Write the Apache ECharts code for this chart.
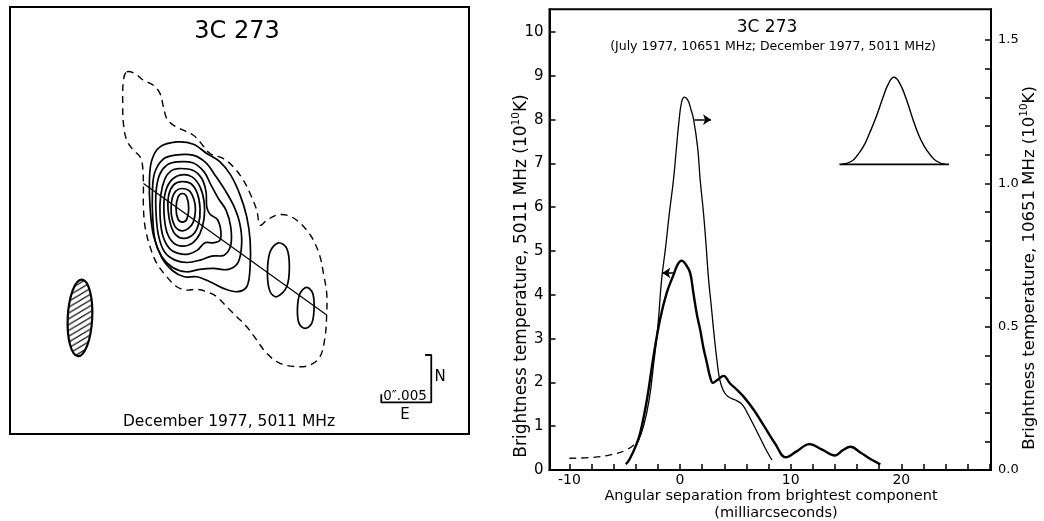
<!DOCTYPE html>
<html><head><meta charset="utf-8">
<script src="https://cdn.jsdelivr.net/npm/echarts@6/dist/echarts.min.js"></script>
<style>html,body{margin:0;padding:0;background:#fff}#c{width:1044px;height:521px}</style>
</head><body><div id="c"></div>
<script>
const FONT = 'DejaVu Sans';

// ---------- Right panel: brightness-temperature profiles ----------
const X_TICKS = [-10,-8,-6,-4,-2,0,2,4,6,8,10,12,14,16,18,20,22,24,26,28];
const X_LABELS = [-10,0,10,20];
const Y_LEFT_TICKS = [0,1,2,3,4,5,6,7,8,9,10];
const Y_RIGHT_TICKS = [0,0.1,0.2,0.3,0.4,0.5,0.6,0.7,0.8,0.9,1.0,1.1,1.2,1.3,1.4,1.5];
const Y_RIGHT_LABELS = [0,0.5,1.0,1.5];

// 5011 MHz profile (left axis, 10^10 K) vs angular separation (mas)
const TB_5011 = [[-4.9,0.13],[-4.55,0.25],[-4.0,0.55],[-3.6,0.85],[-3.0,1.6],[-2.4,2.6],[-1.8,3.45],[-1.2,4.05],[-0.6,4.45],[-0.2,4.7],[0.15,4.78],[0.5,4.7],[0.91,4.5],[1.21,4.03],[1.52,3.55],[1.82,3.2],[2.12,2.78],[2.42,2.45],[2.7,2.14],[2.97,1.99],[3.4,2.06],[3.94,2.15],[4.5,1.98],[5.15,1.83],[5.76,1.67],[6.67,1.37],[7.6,1.0],[8.6,0.6],[9.55,0.29],[10.5,0.42],[11.7,0.59],[12.8,0.47],[14.0,0.33],[14.7,0.45],[15.4,0.53],[16.3,0.4],[17.2,0.25],[18.1,0.13]];
// 10651 MHz profile (right axis, 10^10 K)
const TB_10651_DASHED = [[-10,0.041],[-7.9,0.044],[-6.4,0.052],[-4.85,0.070],[-3.8,0.099]];
const TB_10651 = [[-3.8,0.099],[-3.3,0.153],[-2.8,0.244],[-2.4,0.366],[-2.0,0.504],[-1.67,0.663],[-1.3,0.779],[-0.97,0.895],[-0.6,1.011],[-0.36,1.110],[-0.1,1.215],[0.15,1.285],[0.4,1.301],[0.7,1.290],[0.95,1.262],[1.21,1.225],[1.58,1.127],[1.82,1.011],[2.12,0.895],[2.36,0.779],[2.58,0.663],[2.8,0.580],[3.05,0.481],[3.33,0.383],[3.6,0.313],[3.9,0.278],[4.3,0.257],[5.0,0.244],[5.6,0.229],[6.1,0.197],[7.0,0.130],[7.7,0.076],[8.3,0.035]];
// Inset: beam profile (left-axis units)
const BEAM_PROFILE = [[14.6,6.98],[15.5,7.05],[16.06,7.2],[16.6,7.4],[17.12,7.69],[17.7,8.05],[18.33,8.5],[18.85,8.83],[19.33,8.97],[19.85,8.83],[20.4,8.5],[20.95,8.08],[21.5,7.69],[22.05,7.4],[22.6,7.2],[23.2,7.05],[24.0,6.98]];
const BEAM_BASELINE = [[14.4,6.98],[24.3,6.98]];
// Arrows showing which axis each curve uses
const ARROW_10651 = [[1.3,8.0],[2.8,8.0]];
const ARROW_5011 = [[-0.6,4.5],[-1.6,4.5]];

// ---------- Left panel: contour map (mas offsets from brightest component) ----------
const CONTOUR_LOWEST = [[-5.56,13.63],[-4.74,13.46],[-3.92,12.81],[-2.94,12.32],[-2.29,11.5],[-1.96,10.2],[-1.63,9.05],[-0.98,8.4],[0,7.91],[0.98,7.42],[1.63,6.76],[2.61,5.62],[3.92,5.13],[4.9,4.31],[5.88,3.01],[6.54,1.7],[7.19,0.07],[7.52,-1.41],[8.17,-0.92],[9.15,-0.42],[10.13,-0.42],[11.11,-0.92],[12.09,-1.9],[12.75,-2.88],[13.4,-4.51],[13.73,-6.14],[14.05,-8.1],[14.05,-10.07],[13.89,-12.35],[13.4,-14.31],[12.42,-15.13],[11.11,-15.29],[9.48,-14.97],[8.17,-13.99],[7.19,-12.68],[6.21,-11.37],[5.23,-10.39],[4.25,-9.41],[3.27,-8.43],[2.29,-7.94],[1.31,-7.71],[0.33,-7.78],[-0.65,-7.45],[-1.63,-6.47],[-2.61,-5.16],[-3.27,-3.53],[-3.76,-1.57],[-3.92,0.39],[-3.92,2.35],[-3.99,4.31],[-4.25,5.29],[-4.9,5.95],[-5.56,6.93],[-5.88,8.56],[-5.95,10.52],[-5.88,12.81]];
const CONTOUR_1 = [[-0.65,6.76],[0.98,6.54],[2.29,5.62],[3.59,4.8],[4.64,3.5],[5.56,1.54],[6.21,-0.59],[6.54,-2.88],[6.54,-5.49],[6.21,-7.45],[5.23,-7.94],[3.92,-7.61],[2.61,-6.96],[1.31,-6.47],[0.07,-6.47],[-1.05,-5.88],[-2.12,-4.58],[-2.94,-2.39],[-3.27,0.39],[-3.33,3.01],[-3.1,4.97],[-2.29,6.27]];
const CONTOUR_2 = [[-0.82,5.46],[0.92,5.46],[2.22,4.71],[3.1,3.5],[4.08,2.03],[4.9,0.56],[5.49,-1.08],[5.72,-3.04],[5.39,-5.0],[4.41,-5.75],[2.94,-5.65],[1.57,-5.75],[0.26,-5.98],[-1.05,-5.56],[-2.12,-4.51],[-2.78,-2.88],[-3.01,-0.59],[-3.04,1.7],[-2.84,3.66],[-2.03,5.03]];
const CONTOUR_3 = [[-0.65,4.8],[0.92,4.71],[2.03,3.82],[2.71,2.52],[3.43,1.21],[4.18,0.07],[4.64,-1.57],[4.64,-3.37],[3.99,-4.35],[2.78,-4.44],[1.63,-4.84],[0.39,-5.07],[-0.82,-4.84],[-1.86,-4.02],[-2.45,-2.39],[-2.68,-0.26],[-2.68,1.86],[-2.35,3.5],[-1.63,4.48]];
const CONTOUR_4 = [[-0.49,4.15],[0.92,3.99],[1.8,3.17],[2.22,1.86],[2.29,0.39],[2.61,-0.33],[3.33,-0.85],[3.66,-1.9],[3.59,-2.88],[2.94,-3.14],[2.12,-3.14],[1.37,-3.86],[0.49,-4.25],[-0.49,-4.18],[-1.37,-3.69],[-2.03,-2.39],[-2.29,-0.42],[-2.22,1.54],[-1.8,3.17],[-1.21,3.92]];
const CONTOUR_5 = [[-0.33,3.5],[0.85,3.33],[1.63,2.35],[2.03,0.88],[2.03,-0.75],[1.63,-2.22],[0.92,-3.14],[-0.07,-3.46],[-0.98,-3.14],[-1.63,-2.06],[-1.9,-0.26],[-1.83,1.54],[-1.31,2.84]];
const CONTOUR_6 = [[-0.23,2.86],[0.72,2.68],[1.37,1.7],[1.63,0.23],[1.5,-1.24],[0.98,-2.29],[0.07,-2.71],[-0.72,-2.39],[-1.24,-1.41],[-1.5,0.07],[-1.44,1.54],[-0.98,2.52]];
const CONTOUR_7 = [[-0.16,2.19],[0.59,1.96],[1.05,1.05],[1.18,0.07],[0.98,-1.08],[0.49,-1.73],[-0.16,-1.96],[-0.75,-1.63],[-1.11,-0.75],[-1.21,0.23],[-1.08,1.31],[-0.72,1.96]];
const CONTOUR_8 = [[-0.1,1.7],[0.33,1.37],[0.52,0.23],[0.33,-0.85],[-0.1,-1.11],[-0.52,-0.85],[-0.72,0.23],[-0.52,1.37]];
const KNOT_A = [[9.31,-3.14],[10.13,-3.69],[10.39,-5.49],[10.13,-7.45],[9.15,-8.43],[8.5,-7.94],[8.24,-6.14],[8.5,-4.02]];
const KNOT_B = [[12.09,-7.52],[12.68,-8.1],[12.81,-9.58],[12.58,-11.05],[11.93,-11.54],[11.34,-11.05],[11.18,-9.58],[11.44,-8.1]];
const PROFILE_CUT = [[-3.92,2.68],[14.05,-10.23]];
const BEAM_CENTER = [-10.14,-10.51];
const BEAM_SEMI_AXES = [1.2,3.76];
const SCALE_BAR = [[23.7,-14.15],[24.3,-14.15],[24.3,-18.8],[19.4,-18.8],[19.4,-18.0]];

const SOLID_CONTOURS = [CONTOUR_1,CONTOUR_2,CONTOUR_3,CONTOUR_4,CONTOUR_5,CONTOUR_6,CONTOUR_7,CONTOUR_8,KNOT_A,KNOT_B];

function hatchPattern(){
  const w = 9, h = 6;
  const c = document.createElement('canvas');
  c.width = w; c.height = h;
  const g = c.getContext('2d');
  g.fillStyle = '#fff'; g.fillRect(0,0,w,h);
  g.strokeStyle = '#000'; g.lineWidth = 1.1;
  for (let k=-1;k<=1;k++){
    g.beginPath();
    g.moveTo(-1, h + h/w + k*h);
    g.lineTo(w+1, -h/w + k*h);
    g.stroke();
  }
  return {image: c, repeat: 'repeat'};
}
const HATCH = hatchPattern();

const chart = echarts.init(document.getElementById('c'), null, {renderer:'canvas'});
const black = '#000';
const txt = (x,y,text,size,extra) => Object.assign({type:'text', x, y, z:100, silent:true,
  style:{text, fontSize:size, fontFamily:FONT, fill:black, align:'center', verticalAlign:'middle'}}, extra||{});
const ylab = (x,y,main,size) => ({type:'text', x, y, z:100, silent:true, rotation:Math.PI/2,
  style:{text:'{a|'+main+' (10}{s|10}{a|K)}', align:'center', verticalAlign:'middle',
    rich:{a:{fontSize:size, fontFamily:FONT, fill:black, lineHeight:22},
          s:{fontSize:10.5, fontFamily:FONT, fill:black, verticalAlign:'top'}}}});

const option = {
  animation:false,
  backgroundColor:'#fff',
  grid:[
    {left:549.5, top:9.3, width:441.5, height:460.7, show:true, borderColor:black, borderWidth:2, backgroundColor:'transparent', outerBoundsMode:'none', containLabel:false},
    {left:10, top:7, width:459, height:427, show:true, borderColor:black, borderWidth:2, backgroundColor:'transparent', outerBoundsMode:'none', containLabel:false}
  ],
  xAxis:[
    {gridIndex:0, type:'value', min:-11.8, max:28.1,
     axisLine:{show:true, onZero:false, lineStyle:{color:black, width:2}},
     axisTick:{show:true, inside:true, length:6, customValues:X_TICKS, lineStyle:{color:black, width:1.5}},
     axisLabel:{show:true, customValues:X_LABELS, color:black, fontSize:14, margin:3, fontFamily:FONT},
     splitLine:{show:false}},
    {gridIndex:1, type:'value', min:-17, max:28, show:false}
  ],
  yAxis:[
    {gridIndex:0, type:'value', min:0, max:10.52, position:'left',
     axisLine:{show:true, onZero:false, lineStyle:{color:black, width:2}},
     axisTick:{show:true, inside:true, length:6, customValues:Y_LEFT_TICKS, lineStyle:{color:black, width:1.5}},
     axisLabel:{show:true, customValues:Y_LEFT_TICKS, color:black, fontSize:15, margin:6, fontFamily:FONT},
     splitLine:{show:false}},
    {gridIndex:0, type:'value', min:0, max:1.607, position:'right',
     axisLine:{show:true, onZero:false, lineStyle:{color:black, width:2}},
     axisTick:{show:true, inside:true, length:6, customValues:Y_RIGHT_TICKS, lineStyle:{color:black, width:1.5}},
     axisLabel:{show:true, customValues:Y_RIGHT_LABELS, color:black, fontSize:13, margin:7, fontFamily:FONT, formatter:v=>Number(v).toFixed(1)},
     splitLine:{show:false}},
    {gridIndex:1, type:'value', min:-21.9, max:20, show:false}
  ],
  series:[
    {type:'line', xAxisIndex:0, yAxisIndex:1, data:TB_10651_DASHED, smooth:0.4, symbol:'none', silent:true,
     lineStyle:{color:black, width:1.3, type:[7,5]}},
    {type:'line', xAxisIndex:0, yAxisIndex:1, data:TB_10651, smooth:0.5, symbol:'none', silent:true,
     lineStyle:{color:black, width:1.3}},
    {type:'line', xAxisIndex:0, yAxisIndex:0, data:TB_5011, smooth:0.4, symbol:'none', silent:true,
     lineStyle:{color:black, width:2.4},
     markLine:{silent:true, animation:false, symbol:['none','arrow'], symbolSize:8,
       label:{show:false}, lineStyle:{color:black, width:1.5, type:'solid'}, emphasis:{disabled:true},
       data:[[{coord:ARROW_10651[0]},{coord:ARROW_10651[1]}],[{coord:ARROW_5011[0]},{coord:ARROW_5011[1]}]]}},
    {type:'line', xAxisIndex:0, yAxisIndex:0, data:BEAM_PROFILE, smooth:0.5, symbol:'none', silent:true,
     lineStyle:{color:black, width:1.4}},
    {type:'line', xAxisIndex:0, yAxisIndex:0, data:BEAM_BASELINE, symbol:'none', silent:true,
     lineStyle:{color:black, width:1.8}},
    // contour map
    {type:'custom', coordinateSystem:'cartesian2d', xAxisIndex:1, yAxisIndex:2, silent:true, clip:false,
     data:[[0,0]],
     renderItem:(params, api) => ({type:'polygon', shape:{points:CONTOUR_LOWEST.map(p=>api.coord(p)), smooth:0.35},
       style:{fill:'none', stroke:black, lineWidth:1.4, lineDash:[7,5]}})},
    {type:'custom', coordinateSystem:'cartesian2d', xAxisIndex:1, yAxisIndex:2, silent:true, clip:false,
     data:SOLID_CONTOURS.map((c,i)=>[i,0]),
     renderItem:(params, api) => ({type:'polygon', shape:{points:SOLID_CONTOURS[params.dataIndex].map(p=>api.coord(p)), smooth:0.35},
       style:{fill:'none', stroke:black, lineWidth:1.7}})},
    {type:'custom', coordinateSystem:'cartesian2d', xAxisIndex:1, yAxisIndex:2, silent:true, clip:false,
     data:[[BEAM_CENTER[0],BEAM_CENTER[1],BEAM_SEMI_AXES[0],BEAM_SEMI_AXES[1]]],
     renderItem:(params, api) => {
       const c = api.coord([api.value(0), api.value(1)]);
       const s = api.size([api.value(2), api.value(3)]);
       return {type:'ellipse', x:c[0], y:c[1], rotation:-0.05, shape:{cx:0, cy:0, rx:s[0], ry:s[1]},
         style:{fill:HATCH, stroke:black, lineWidth:2.2}};
     }},
    {type:'line', xAxisIndex:1, yAxisIndex:2, data:PROFILE_CUT, symbol:'none', silent:true,
     lineStyle:{color:black, width:1.2}},
    {type:'line', xAxisIndex:1, yAxisIndex:2, data:SCALE_BAR, symbol:'none', silent:true,
     lineStyle:{color:black, width:1.8}}
  ],
  graphic:[
    txt(767,28,'3C 273',17),
    txt(773,47,'(July 1977, 10651 MHz; December 1977, 5011 MHz)',12.5),
    txt(771,496,'Angular separation from brightest component',14.5),
    txt(776,513,'(milliarcseconds)',14.5),
    ylab(522,276,'Brightness temperature, 5011 MHz',17),
    ylab(1030,268,'Brightness temperature, 10651 MHz',16.5),
    txt(237,32,'3C 273',24),
    txt(229,422,'December 1977, 5011 MHz',15.5),
    txt(405,396,'0\u2033.005',13.5),
    txt(440,377,'N',15),
    txt(405,415,'E',15)
  ]
};
chart.setOption(option);
</script></body></html>
